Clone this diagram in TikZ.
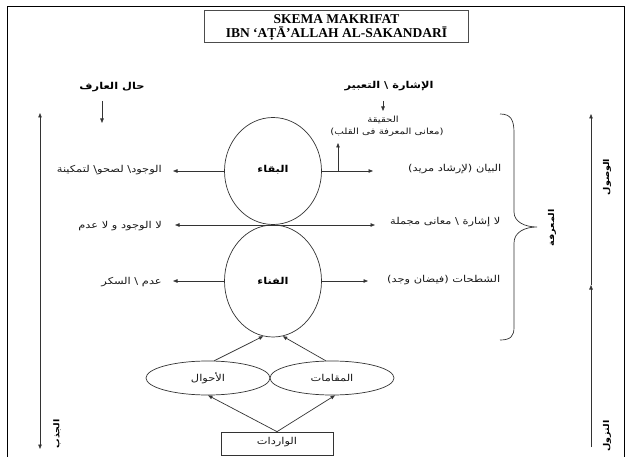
\documentclass[tikz,border=0pt]{standalone}
\usepackage{fontspec}
\setmainfont{Liberation Serif}
\newfontfamily\arabicfont[Script=Arabic, FakeStretch=1.2]{DejaVu Sans}
\TeXXeTstate=1
\usetikzlibrary{arrows.meta,shapes.geometric}
\newcommand{\artxt}[1]{\beginR #1\endR}
\tikzset{
  ln/.style={draw=black!80, line width=0.7pt},
  arr/.style={ln, -{Triangle[length=4.5pt,width=3.5pt]}},
  darr/.style={ln, {Triangle[length=4.5pt,width=3.5pt]}-{Triangle[length=4.5pt,width=3.5pt]}},
  lbl/.style={font=\arabicfont\fontsize{9.5}{11}\selectfont, inner sep=1pt, text=black!90},
  blbl/.style={font=\arabicfont\bfseries\fontsize{9.5}{11}\selectfont, inner sep=1pt},
  tlbl/.style={font=\arabicfont\bfseries\fontsize{9.5}{11}\selectfont, inner sep=1pt},
  rlbl/.style={font=\arabicfont\bfseries\fontsize{8}{9}\selectfont, inner sep=1pt, rotate=90},
  circ/.style={ln, ellipse, minimum width=97pt, inner sep=0pt},
  oval/.style={ln, ellipse, minimum width=124pt, minimum height=34pt, inner sep=0pt},
}
\begin{document}
\begin{tikzpicture}[x=1pt,y=-1pt]
\useasboundingbox (0,0) rectangle (629,457);
\fill[white] (0,0) rectangle (629,457);
% frame
\draw[black, line width=0.9pt] (7,457) -- (7,6) -- (624,6) -- (624,457);
% title
\node[draw=black!70, line width=0.8pt, minimum width=264pt, minimum height=32pt] (title) at (336.5,26) {};
\node[align=center, inner sep=0pt, font=\bfseries\fontsize{13.5}{14}\selectfont] (titletext) at (336.5,27.5)
  {SKEMA MAKRIFAT\\IBN ‘AṬĀ’ALLAH AL-SAKANDARĪ};
% circles
\node[circ, minimum height=107pt] (baqa) at (273,171) {};
\node[circ, minimum height=112pt] (fana) at (273,281) {};
\node[blbl] (tbaqa) at (273,170) {\artxt{البقاء}};
\node[blbl] (tfana) at (273,281) {\artxt{الفناء}};
% top labels
\node[tlbl] (hal) at (112,87) {\artxt{حال العارف}};
\node[tlbl] (isyara) at (389,86) {\artxt{الإشارة \textbackslash{} التعبير}};
\coordinate (hal1) at (102,101);
\coordinate (hal2) at (102,123);
\draw[arr] (hal1) -- (hal2);
\coordinate (is1) at (383,101);
\coordinate (is2) at (383,111);
\draw[arr] (is1) -- (is2);
\node[lbl, font=\arabicfont\fontsize{8.5}{10}\selectfont] (haq1) at (383,120) {\artxt{الحقيقة}};
\node[lbl, font=\arabicfont\fontsize{8.5}{10}\selectfont] (haq2) at (387,132) {\artxt{(معانى المعرفة فى القلب)}};
% row 1
\coordinate (l1) at (173,171);
\coordinate (r1) at (373,171);
\draw[arr] (baqa.west) -- (l1);
\draw[arr] (baqa.east) -- (r1);
\coordinate (up0) at (338,171);
\coordinate (up1) at (338,143);
\draw[arr] (up0) -- (up1);
\node[lbl, anchor=east] (w1) at (163,170) {\artxt{الوجود\textbackslash{} لصحو\textbackslash{} لتمكينة}};
\node[lbl, anchor=west] (b1) at (407,169) {\artxt{البيان (لإرشاد مريد)}};
% row 2
\coordinate (l2) at (175,225);
\coordinate (r2) at (375,225);
\draw[darr] (l2) -- (r2);
\node[lbl, anchor=east] (w2) at (163,226) {\artxt{لا الوجود و لا عدم}};
\node[lbl, anchor=west] (b2) at (389,222) {\artxt{لا إشارة \textbackslash{} معانى مجملة}};
% row 3
\coordinate (l3) at (173,281);
\coordinate (r3) at (368,281);
\draw[arr] (fana.west) -- (l3);
\draw[arr] (fana.east) -- (r3);
\node[lbl, anchor=east] (w3) at (163,282) {\artxt{عدم \textbackslash{} السكر}};
\node[lbl, anchor=west] (b3) at (386,280) {\artxt{الشطحات (فيضان وجد)}};
% brace
\draw[ln] (500,114) .. controls (511,114) and (514,120) .. (514,133) -- (514,212)
  .. controls (514,222) and (525,227) .. (537,227)
  .. controls (525,227) and (514,232) .. (514,243) -- (514,327)
  .. controls (514,336) and (511,340) .. (500,340);
\node[rlbl] (marifa) at (552,228) {\artxt{المعرفة}};
% right vertical
\coordinate (rv0) at (591,447);
\coordinate (rv1) at (591,285);
\coordinate (rv2) at (591,114);
\draw[arr] (rv0) -- (rv1);
\draw[arr] (rv1) -- (rv2);
\node[rlbl] (wusul) at (607,177) {\artxt{الوصول}};
\node[rlbl] (nuzul) at (607,436) {\artxt{النزول}};
% left vertical
\coordinate (lv0) at (40,113);
\coordinate (lv1) at (40,449);
\draw[darr] (lv0) -- (lv1);
\node[rlbl] (jazb) at (57,434) {\artxt{الجذب}};
% lower ovals
\node[oval] (ahwal) at (208,378) {};
\node[oval] (maqam) at (332,378) {};
\node[lbl] (tahwal) at (208,378) {\artxt{الأحوال}};
\node[lbl] (tmaqam) at (332,378) {\artxt{المقامات}};
\draw[arr] (ahwal.70) -- (fana.-100);
\draw[arr] (maqam.110) -- (fana.-80);
% box
\node[ln, draw, minimum width=112pt, minimum height=23pt, inner sep=0pt] (warid) at (277,443.5) {};
\node[lbl] (twarid) at (277,442) {\artxt{الواردات}};
\draw[arr] (warid.north) -- (ahwal.south);
\draw[arr] (warid.north) -- (maqam.-80);
\end{tikzpicture}
\end{document}
